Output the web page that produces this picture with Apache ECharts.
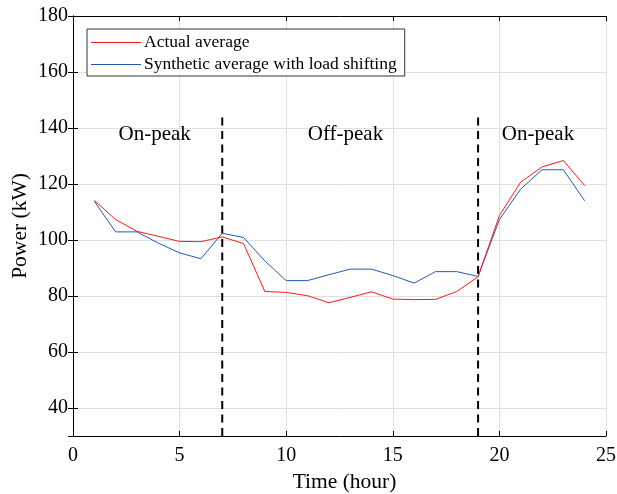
<!DOCTYPE html>
<html>
<head>
<meta charset="utf-8">
<script src="https://cdn.jsdelivr.net/npm/echarts@6/dist/echarts.min.js"></script>
<style>
  html, body { margin: 0; padding: 0; background: #fff; }
  #chart { width: 617px; height: 494px; }
</style>
</head>
<body>
<div id="chart"></div>
<script>
// Hourly average power profiles (kW)
const hours = [1,2,3,4,5,6,7,8,9,10,11,12,13,14,15,16,17,18,19,20,21,22,23,24];
const actualAverage = [114.1,107.3,103.1,101.3,99.5,99.4,101.1,98.7,81.6,81.3,80.1,77.6,79.5,81.5,78.9,78.7,78.8,81.6,86.9,108.7,120.7,126.1,128.4,119.4];
const syntheticShifted = [113.8,102.9,102.9,98.9,95.4,93.3,102.4,100.9,92.5,85.5,85.5,87.6,89.6,89.6,87.3,84.6,88.7,88.7,87.0,107.3,118.2,125.1,125.1,114.0];
const seriesNames = ['Actual average', 'Synthetic average with load shifting'];
// Tariff period boundaries (hour) and period names
const periodBoundaries = [7, 19];
const periodNames = ['On-peak', 'Off-peak', 'On-peak'];

const FONT = 'Liberation Serif';
const chart = echarts.init(document.getElementById('chart'));

const pair = (xs, ys) => xs.map((x, i) => [x, ys[i]]);

const axisCommon = {
  axisLine: { show: true, onZero: false, lineStyle: { color: '#000', width: 1 } },
  axisTick: { show: true, inside: true, length: 5, lineStyle: { color: '#000' } },
  axisLabel: { color: '#000', fontFamily: FONT, fontSize: 20 },
  splitLine: { show: true, lineStyle: { color: '#e0e0e0', width: 1 } }
};

const boundarySeries = periodBoundaries.map(b => ({
  type: 'line',
  data: [[b, 30], [b, 144]],
  symbol: 'none',
  silent: true,
  lineStyle: { color: '#000', width: 2, type: [8, 5.5] },
  z: 1
}));

chart.setOption({
  animation: false,
  backgroundColor: '#fff',
  grid: { left: 73, right: 11, top: 16, bottom: 58, containLabel: false, outerBoundsMode: 'none' },
  legend: {
    data: seriesNames,
    orient: 'vertical',
    left: 87,
    top: 29,
    icon: 'rect',
    itemWidth: 50,
    itemHeight: 1,
    itemGap: 3,
    padding: [4, 8, 2, 4],
    backgroundColor: '#fff',
    borderColor: '#333',
    borderWidth: 1,
    borderRadius: 0,
    textStyle: { color: '#000', fontFamily: FONT, fontSize: 17.5, lineHeight: 19, padding: [0, 0, 0, -2] }
  },
  xAxis: [
    Object.assign({}, axisCommon, {
      type: 'value', min: 0, max: 25, interval: 5,
      name: 'Time (hour)', nameLocation: 'middle', nameGap: 34,
      nameTextStyle: { color: '#000', fontFamily: FONT, fontSize: 21.5, padding: [0, 0, 0, 10] },
      axisLabel: Object.assign({}, axisCommon.axisLabel, { margin: 10 })
    }),
    {
      type: 'value', min: 0, max: 25, interval: 5, position: 'top',
      axisLine: { show: true, lineStyle: { color: '#000' } },
      axisTick: { show: true, inside: true, length: 5, lineStyle: { color: '#000' } },
      axisLabel: { show: false }, splitLine: { show: false }
    }
  ],
  yAxis: [
    Object.assign({}, axisCommon, {
      type: 'value', min: 30, max: 180, splitNumber: 8,
      name: 'Power (kW)', nameLocation: 'middle', nameGap: 42, nameMoveOverlap: false,
      nameTextStyle: { color: '#000', fontFamily: FONT, fontSize: 21.5 },
      axisLabel: Object.assign({}, axisCommon.axisLabel, { showMinLabel: false, margin: 5 })
    }),
    {
      type: 'value', min: 30, max: 180, splitNumber: 8, position: 'right',
      axisLine: { show: true, lineStyle: { color: '#000' } },
      axisTick: { show: true, inside: true, length: 5, lineStyle: { color: '#000' } },
      axisLabel: { show: false }, splitLine: { show: false }
    }
  ],
  series: [
    {
      name: seriesNames[0],
      type: 'line',
      data: pair(hours, actualAverage),
      symbol: 'none',
      lineStyle: { color: '#ff1a1a', width: 1 },
      itemStyle: { color: '#ff1a1a' },
      z: 3,
      markPoint: {
        symbol: 'circle', symbolSize: 0, silent: true,
        label: { show: true, color: '#000', fontFamily: FONT, fontSize: 21, formatter: p => p.name },
        data: [
          { name: periodNames[0], coord: [3.83, 137.6] },
          { name: periodNames[1], coord: [12.78, 137.6] },
          { name: periodNames[2], coord: [21.81, 137.6] }
        ]
      }
    },
    {
      name: seriesNames[1],
      type: 'line',
      data: pair(hours, syntheticShifted),
      symbol: 'none',
      lineStyle: { color: '#2458b8', width: 1 },
      itemStyle: { color: '#2458b8' },
      z: 2
    }
  ].concat(boundarySeries)
});
</script>
</body>
</html>
